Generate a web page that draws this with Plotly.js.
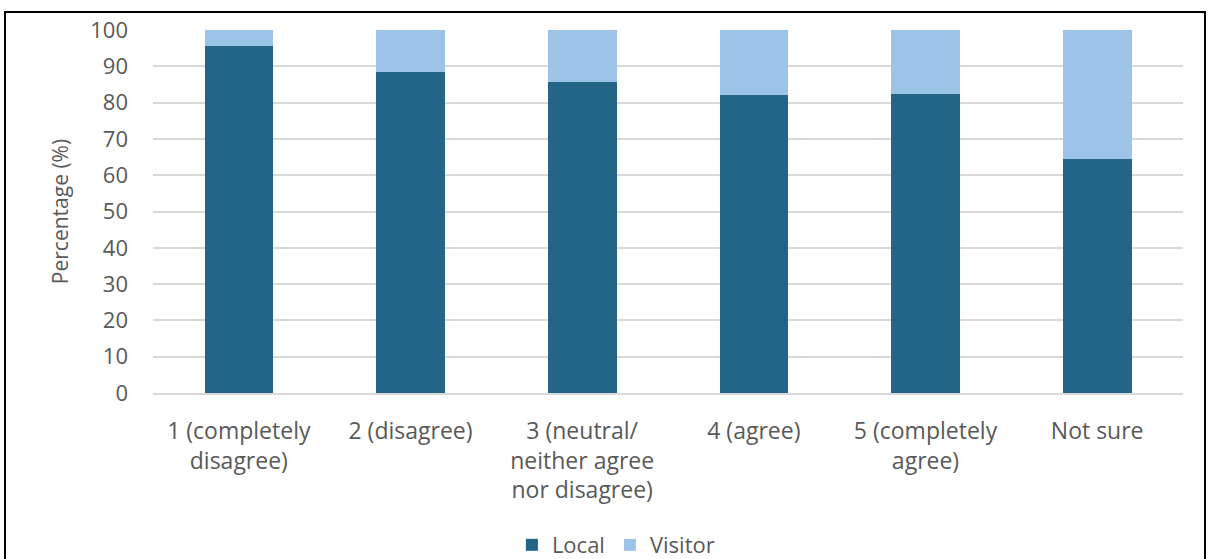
<!DOCTYPE html>
<html>
<head>
<meta charset="utf-8">
<script src="https://cdn.plot.ly/plotly-3.0.1.min.js"></script>
<style>
html,body{margin:0;padding:0;background:#fff;width:1210px;height:559px;overflow:hidden;}
#frame{position:absolute;left:4px;top:11px;width:1202px;height:560px;border:2px solid #000;box-sizing:border-box;}
#chart{position:absolute;left:0;top:0;width:1210px;height:559px;}
</style>
</head>
<body>
<div id="chart"></div>
<div id="frame"></div>
<script>
const categories = ["1 (completely<br>disagree)", "2 (disagree)", "3 (neutral/<br>neither agree<br>nor disagree)", "4 (agree)", "5 (completely<br>agree)", "Not sure"];
const localValues = [95.6, 88.3, 85.6, 82.0, 82.5, 64.5];
const visitorValues = [4.4, 11.7, 14.4, 18.0, 17.5, 35.5];
const yTicks = [0, 10, 20, 30, 40, 50, 60, 70, 80, 90, 100];

const fam = "Open Sans, Noto Sans, sans-serif";
const tickFont = {family: fam, size: 22, color: "#595959"};
const catFont = {family: fam, size: 23, color: "#595959"};
const titleFont = {family: fam, size: 21, color: "#595959"};

const traces = [
  {type: "bar", name: "Local", x: categories, y: localValues, marker: {color: "#236586"}, width: 0.4},
  {type: "bar", name: "Visitor", x: categories, y: visitorValues, marker: {color: "#9dc3e6"}, width: 0.4}
];

const layout = {
  width: 1210, height: 559,
  barmode: "stack",
  paper_bgcolor: "#fff", plot_bgcolor: "#fff",
  margin: {l: 153, r: 27, t: 30, b: 166, autoexpand: false},
  font: tickFont,
  showlegend: true,
  legend: {orientation: "h", xref: "container", yref: "container", x: 0.509, xanchor: "center", y: 0.025, yanchor: "middle", font: tickFont, traceorder: "normal", itemwidth: 30},
  xaxis: {type: "category", automargin: false, tickfont: catFont, showgrid: false, showline: true, linecolor: "#d9d9d9", linewidth: 2, ticks: "", ticklabelstandoff: 16},
  yaxis: {range: [0, 100], automargin: false, tickvals: yTicks, tickfont: tickFont, showgrid: true, gridcolor: "#d9d9d9", gridwidth: 2, zeroline: false, ticks: "", ticklabelstandoff: 24,
    title: {text: "Percentage (%)", font: titleFont, standoff: 15}}
};

Plotly.newPlot("chart", traces, layout, {displayModeBar: false, staticPlot: true});
</script>
</body>
</html>
